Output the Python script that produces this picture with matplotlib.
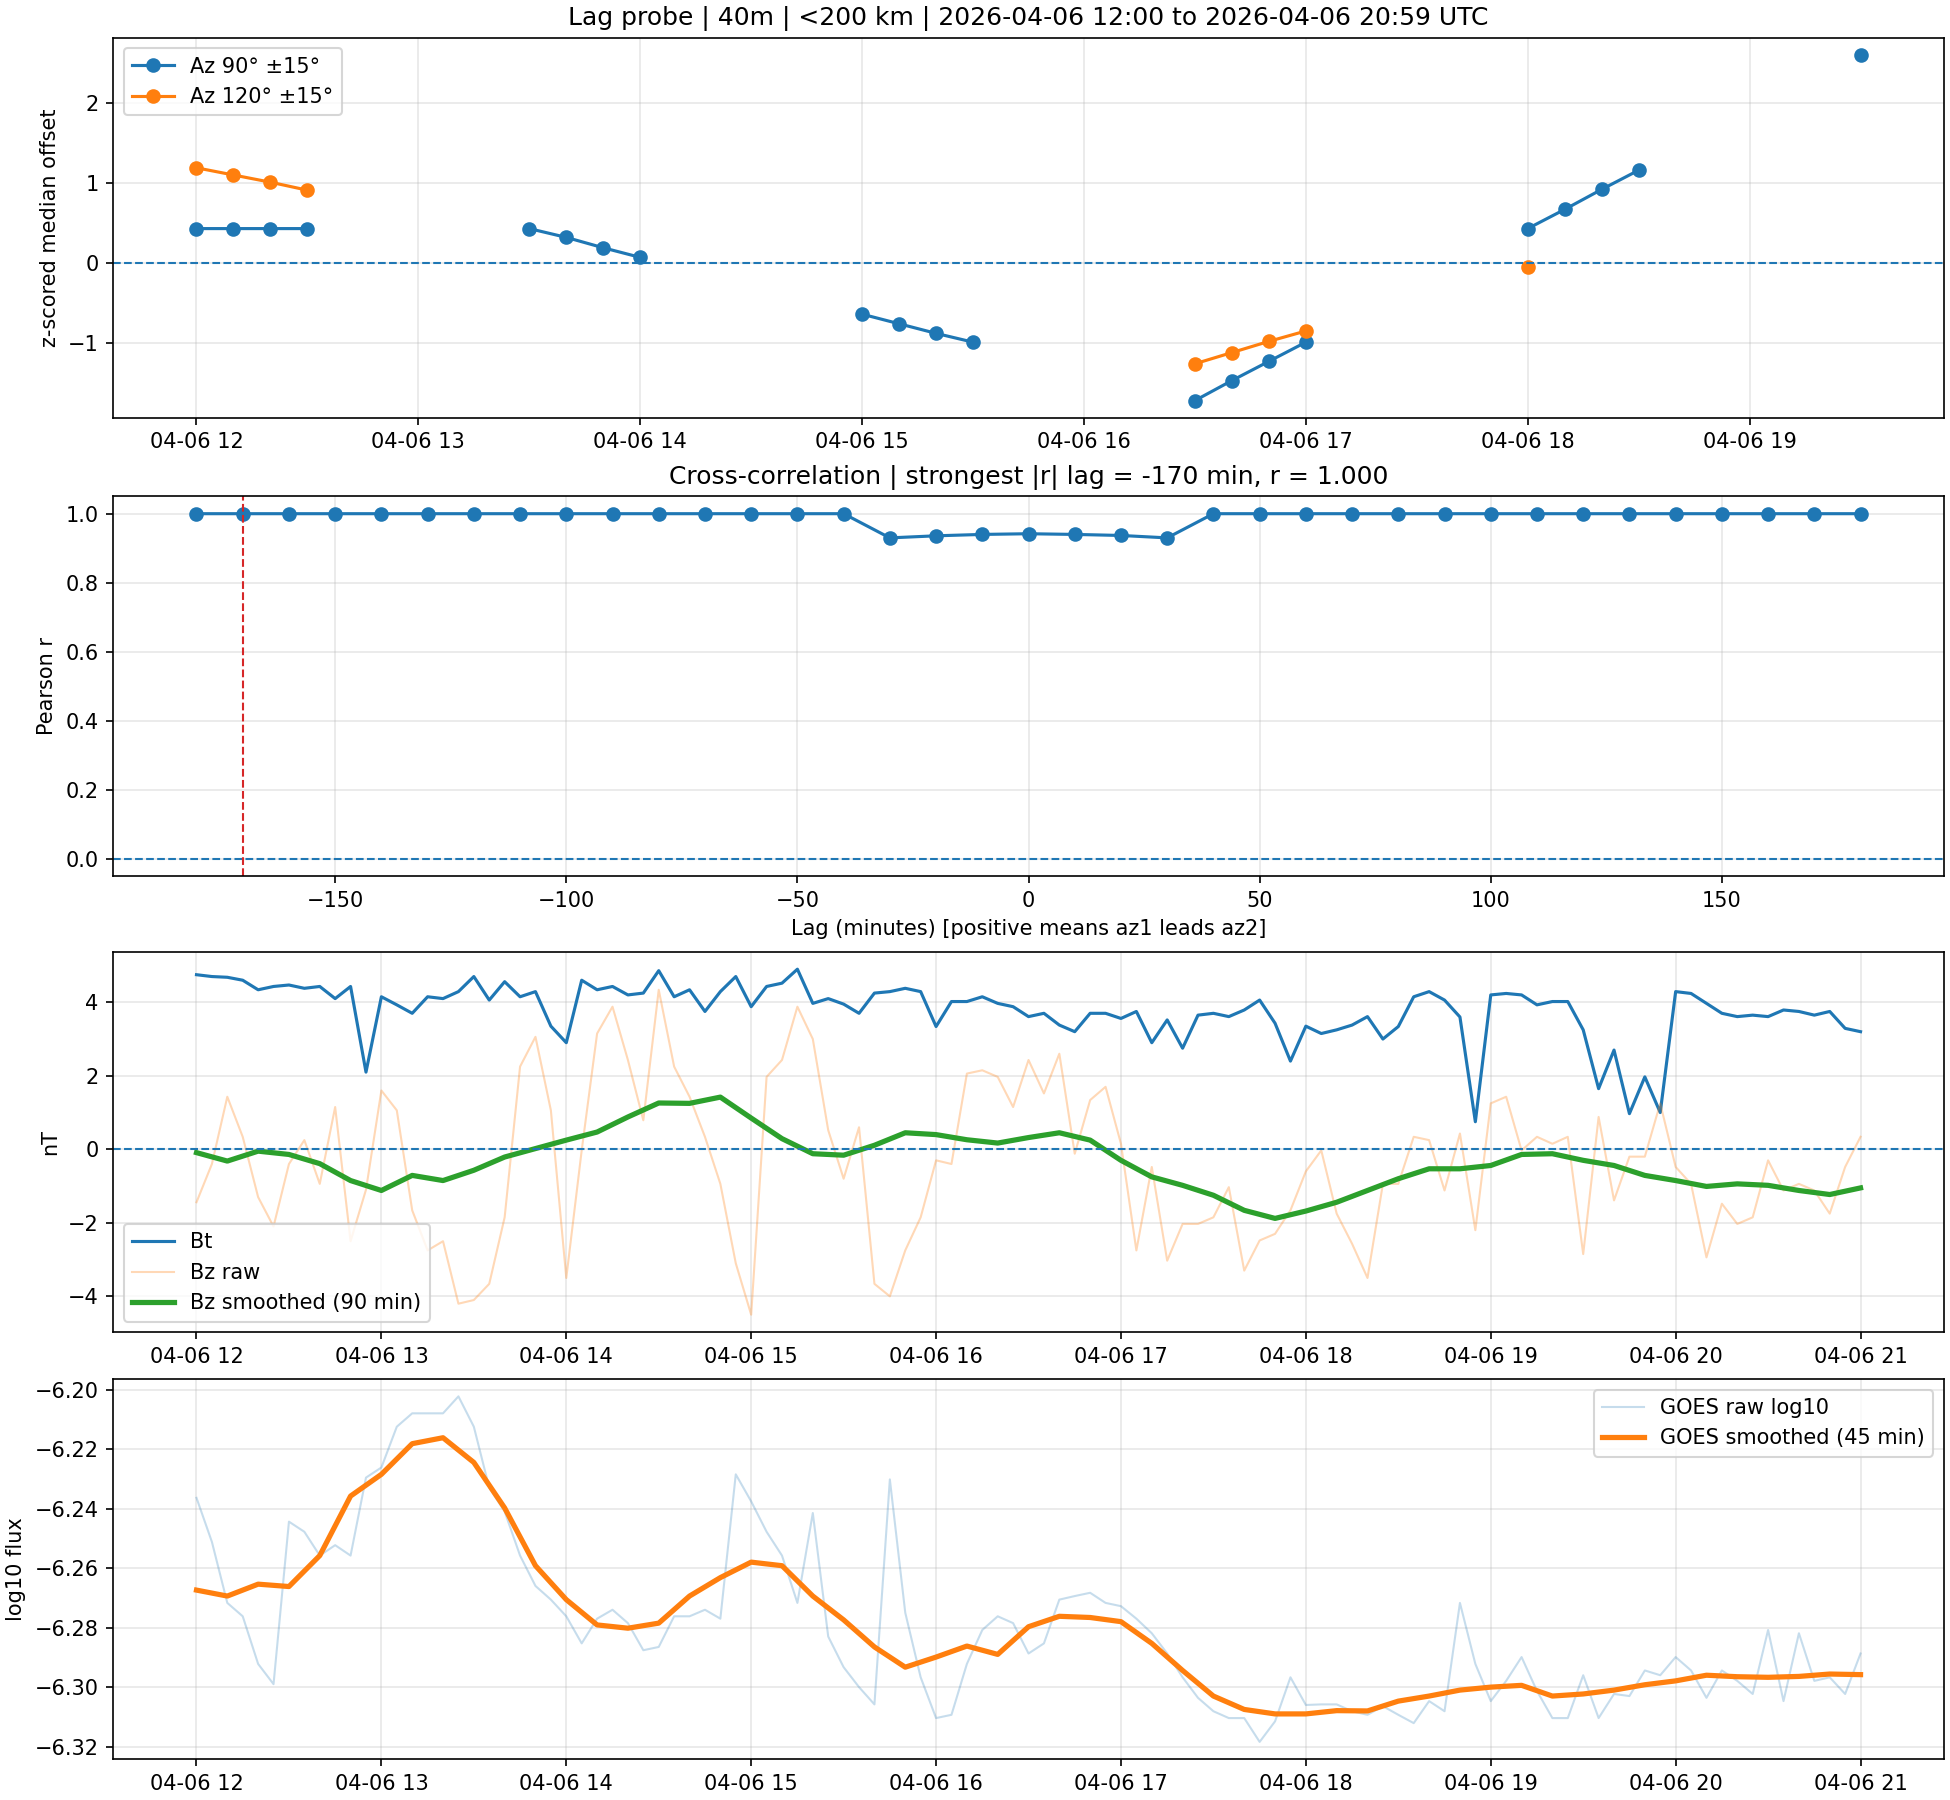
import numpy as np
import pandas as pd
import matplotlib
matplotlib.use("Agg")
import matplotlib.pyplot as plt

nan = np.nan
base = pd.Timestamp("2026-04-06 12:00")

# --- panel 1: z-scored median offset, 10-min bins 12:00..19:30
t_off = pd.date_range(base, "2026-04-06 19:30", freq="10min")
az90 = [0.43, 0.43, 0.43, 0.43, nan, nan, nan, nan, nan,
        0.43, 0.32, 0.19, 0.07, nan, nan, nan, nan, nan,
        -0.64, -0.76, -0.88, -0.99, nan, nan, nan, nan, nan,
        -1.72, -1.47, -1.23, -0.99, nan, nan, nan, nan, nan,
        0.43, 0.67, 0.92, 1.16, nan, nan, nan, nan, nan,
        2.60]
az120 = [1.19, 1.10, 1.01, 0.91] + [nan] * 23 + \
        [-1.26, -1.12, -0.98, -0.85] + [nan] * 5 + [-0.05] + [nan] * 9

# --- panel 2: cross-correlation
lags = list(range(-180, 181, 10))
pearson = [1.0] * 15 + [0.930, 0.936, 0.940, 0.942, 0.940, 0.937, 0.930] + [1.0] * 15
best_lag = -170
best_r = 1.000

# --- panel 3: solar wind field, 5-min samples 12:00..21:00
t5 = pd.date_range(base, periods=109, freq="5min")
bt = [4.75, 4.70, 4.68, 4.60, 4.34, 4.43, 4.47, 4.38, 4.43, 4.10, 4.43, 2.10,
      4.15, 3.93, 3.70, 4.15, 4.10, 4.29, 4.70, 4.06, 4.56, 4.15, 4.29, 3.35,
      2.90, 4.60, 4.34, 4.43, 4.20, 4.25, 4.86, 4.15, 4.34, 3.75, 4.29, 4.70,
      3.88, 4.43, 4.52, 4.90, 3.97, 4.10, 3.95, 3.70, 4.25, 4.29, 4.38, 4.29,
      3.34, 4.02, 4.02, 4.15, 3.97, 3.88, 3.61, 3.70, 3.38, 3.20, 3.70, 3.70,
      3.56, 3.75, 2.90, 3.52, 2.75, 3.65, 3.70, 3.61, 3.79, 4.06, 3.43, 2.40,
      3.35, 3.15, 3.25, 3.38, 3.61, 3.00, 3.34, 4.15, 4.29, 4.06, 3.60, 0.75,
      4.20, 4.24, 4.20, 3.93, 4.02, 4.02, 3.25, 1.65, 2.70, 0.97, 1.97, 1.00,
      4.29, 4.24, 3.97, 3.70, 3.61, 3.65, 3.61, 3.79, 3.75, 3.65, 3.75, 3.29,
      3.20]
bz_raw = [-1.44, -0.40, 1.43, 0.34, -1.30, -2.10, -0.40, 0.25, -0.94, 1.15, -2.50, -1.10,
          1.60, 1.06, -1.66, -2.75, -2.50, -4.20, -4.10, -3.66, -1.85, 2.25, 3.06, 1.06,
          -3.50, -0.03, 3.15, 3.88, 2.43, 0.79, 4.34, 2.25, 1.43, 0.34, -0.94, -3.10,
          -4.50, 1.97, 2.43, 3.88, 3.00, 0.52, -0.80, 0.60, -3.66, -4.00, -2.75, -1.85,
          -0.30, -0.40, 2.06, 2.15, 1.97, 1.15, 2.43, 1.52, 2.60, -0.12, 1.34, 1.70,
          0.15, -2.75, -0.48, -3.03, -2.03, -2.03, -1.85, -1.03, -3.30, -2.48, -2.30, -1.66,
          -0.60, -0.03, -1.75, -2.57, -3.50, -0.94, -0.94, 0.34, 0.25, -1.12, 0.43, -2.20,
          1.25, 1.43, -0.03, 0.34, 0.15, 0.34, -2.85, 0.88, -1.39, -0.20, -0.20, 1.25,
          -0.48, -0.94, -2.94, -1.48, -2.03, -1.85, -0.30, -1.12, -0.94, -1.12, -1.75, -0.48,
          0.34]
t10 = pd.date_range(base, periods=55, freq="10min")
bz_smooth = [-0.09, -0.32, -0.05, -0.14, -0.39, -0.85,
             -1.12, -0.71, -0.85, -0.57, -0.21, 0.02,
             0.25, 0.47, 0.88, 1.26, 1.25, 1.42,
             0.85, 0.29, -0.12, -0.16, 0.11, 0.45,
             0.40, 0.26, 0.17, 0.32, 0.45, 0.25,
             -0.30, -0.75, -0.98, -1.25, -1.66, -1.88,
             -1.68, -1.44, -1.12, -0.80, -0.53, -0.53,
             -0.44, -0.14, -0.12, -0.30, -0.44, -0.71,
             -0.85, -1.01, -0.94, -0.98, -1.12, -1.23,
             -1.05]

# --- panel 4: GOES flux (log10)
goes_raw = [-6.2364, -6.2512, -6.2717, -6.2762, -6.2922, -6.2990, -6.2444, -6.2478, -6.2558, -6.2523, -6.2558, -6.2296,
            -6.2262, -6.2125, -6.2080, -6.2080, -6.2080, -6.2023, -6.2125, -6.2330, -6.2410, -6.2558, -6.2660, -6.2706,
            -6.2762, -6.2853, -6.2770, -6.2740, -6.2785, -6.2876, -6.2865, -6.2762, -6.2762, -6.2740, -6.2770, -6.2285,
            -6.2376, -6.2478, -6.2558, -6.2717, -6.2415, -6.2830, -6.2933, -6.3000, -6.3058, -6.2302, -6.2750, -6.2967,
            -6.3104, -6.3093, -6.2922, -6.2808, -6.2762, -6.2785, -6.2887, -6.2853, -6.2706, -6.2694, -6.2683, -6.2717,
            -6.2728, -6.2770, -6.2819, -6.2887, -6.2967, -6.3036, -6.3081, -6.3104, -6.3104, -6.3184, -6.3115, -6.2967,
            -6.3060, -6.3058, -6.3058, -6.3081, -6.3093, -6.3064, -6.3093, -6.3121, -6.3047, -6.3081, -6.2717, -6.2922,
            -6.3047, -6.2979, -6.2899, -6.3013, -6.3104, -6.3104, -6.2960, -6.3104, -6.3023, -6.3030, -6.2944, -6.2960,
            -6.2899, -6.2944, -6.3036, -6.2944, -6.2979, -6.3023, -6.2808, -6.3047, -6.2819, -6.2979, -6.2967, -6.3023,
            -6.2887]
goes_smooth = [-6.2674, -6.2694, -6.2654, -6.2662, -6.2558, -6.2358,
               -6.2285, -6.2182, -6.2162, -6.2245, -6.2398, -6.2592,
               -6.2706, -6.2791, -6.2802, -6.2785, -6.2694, -6.2632,
               -6.2580, -6.2592, -6.2694, -6.2774, -6.2865, -6.2933,
               -6.2899, -6.2862, -6.2890, -6.2797, -6.2762, -6.2766,
               -6.2780, -6.2853, -6.2944, -6.3030, -6.3075, -6.3090,
               -6.3090, -6.3079, -6.3080, -6.3047, -6.3030, -6.3010,
               -6.3000, -6.2994, -6.3030, -6.3023, -6.3010, -6.2992,
               -6.2979, -6.2960, -6.2965, -6.2967, -6.2964, -6.2956,
               -6.2958]

fig, axes = plt.subplots(4, 1, figsize=(13, 12), dpi=150, layout="constrained")

# panel 1
ax = axes[0]
ax.plot(t_off, az90, marker="o", label="Az 90° ±15°")
ax.plot(t_off, az120, marker="o", label="Az 120° ±15°")
ax.axhline(0, linestyle="--", linewidth=1)
ax.set_title("Lag probe | 40m | <200 km | 2026-04-06 12:00 to 2026-04-06 20:59 UTC")
ax.set_ylabel("z-scored median offset")
ax.grid(True, alpha=0.3)
ax.legend(loc="upper left")

# panel 2
ax = axes[1]
ax.plot(lags, pearson, marker="o")
ax.axhline(0, linestyle="--", linewidth=1)
ax.axvline(best_lag, color="tab:red", linestyle="--", linewidth=1)
ax.set_title(f"Cross-correlation | strongest |r| lag = {best_lag} min, r = {best_r:.3f}")
ax.set_xlabel("Lag (minutes) [positive means az1 leads az2]")
ax.set_ylabel("Pearson r")
ax.grid(True, alpha=0.3)

# panel 3
ax = axes[2]
ax.plot(t5, bt, label="Bt")
ax.plot(t5, bz_raw, alpha=0.3, linewidth=1, label="Bz raw")
ax.plot(t10, bz_smooth, linewidth=2.5, label="Bz smoothed (90 min)")
ax.axhline(0, linestyle="--", linewidth=1)
ax.set_ylabel("nT")
ax.grid(True, alpha=0.3)
ax.legend(loc="lower left")

# panel 4
ax = axes[3]
ax.plot(t5, goes_raw, alpha=0.25, linewidth=1, label="GOES raw log10")
ax.plot(t10, goes_smooth, linewidth=2.5, color="C1", label="GOES smoothed (45 min)")
ax.set_ylabel("log10 flux")
ax.grid(True, alpha=0.3)
ax.legend(loc="upper right")

plt.savefig("out.png")
